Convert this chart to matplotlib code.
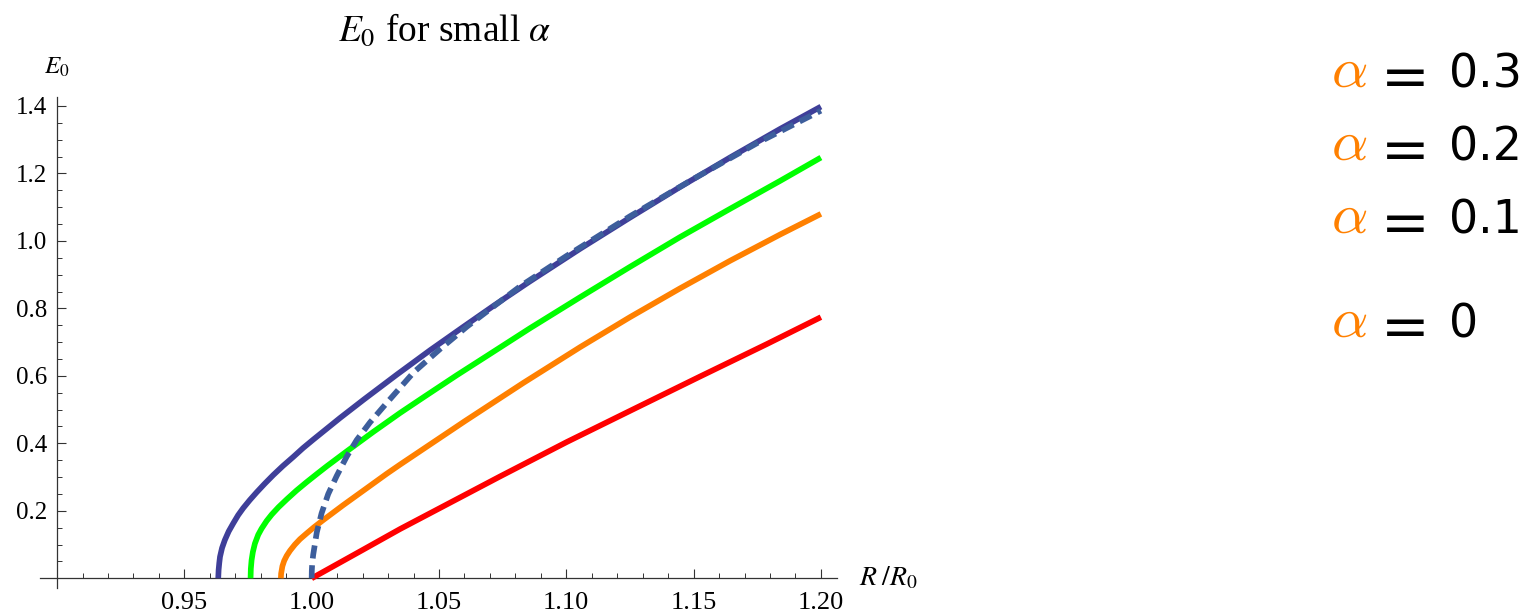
import matplotlib
matplotlib.use("Agg")
import matplotlib.pyplot as plt

# ---------------- data ----------------
navy_x = [0.9633, 0.96345, 0.9637, 0.9640, 0.9648, 0.9659, 0.9674, 0.9692, 0.9711, 0.9731,
          0.9757, 0.9784, 0.9815, 0.9849, 0.9887, 0.9928, 0.9966, 1.0006, 1.0111, 1.0205,
          1.0335, 1.0465, 1.0595, 1.0715, 1.0855, 1.1055, 1.1250, 1.1445, 1.1645, 1.1840,
          1.2000]
navy_y = [0.000, 0.025, 0.045, 0.064, 0.090, 0.1135, 0.139, 0.163, 0.187, 0.208,
          0.232, 0.255, 0.280, 0.306, 0.333, 0.360, 0.386, 0.411, 0.475, 0.530,
          0.604, 0.676, 0.745, 0.808, 0.879, 0.977, 1.069, 1.159, 1.248, 1.332,
          1.398]

green_x = [0.9760, 0.9761, 0.9764, 0.9769, 0.9777, 0.9790, 0.9803, 0.9823, 0.9843, 0.9870,
           0.9902, 0.9940, 0.9980, 1.0020, 1.0059, 1.0137, 1.0242, 1.0347, 1.0440, 1.0570,
           1.0690, 1.0857, 1.1054, 1.1250, 1.1446, 1.1643, 1.1840, 1.2000]
green_y = [0.000, 0.028, 0.054, 0.078, 0.103, 0.129, 0.147, 0.170, 0.189, 0.211,
           0.234, 0.260, 0.285, 0.309, 0.332, 0.376, 0.434, 0.490, 0.537, 0.602,
           0.660, 0.741, 0.833, 0.923, 1.011, 1.095, 1.178, 1.247]

orange_x = [0.9879, 0.9880, 0.9885, 0.9892, 0.9902, 0.9915, 0.9934, 0.9954, 0.9980, 1.0010,
            1.0046, 1.0085, 1.0124, 1.0216, 1.0295, 1.0347, 1.0602, 1.0831, 1.1054, 1.1250,
            1.1446, 1.1643, 1.1840, 1.2000]
orange_y = [0.000, 0.014, 0.036, 0.052, 0.067, 0.082, 0.100, 0.116, 0.133, 0.152,
            0.173, 0.195, 0.217, 0.267, 0.310, 0.337, 0.466, 0.579, 0.685, 0.774,
            0.859, 0.941, 1.019, 1.080]

red_x = [1.0000, 1.0200, 1.0347, 1.0740, 1.1002, 1.1263, 1.1525, 1.1787, 1.2000]
red_y = [0.000, 0.084, 0.146, 0.302, 0.404, 0.501, 0.598, 0.694, 0.774]

dash_x = [1.0000, 1.00005, 1.0002, 1.0006, 1.0020, 1.0039, 1.0065, 1.0098, 1.0137, 1.0177,
          1.0229, 1.0295, 1.0400, 1.0505, 1.0610, 1.0715, 1.0820, 1.1000, 1.1250, 1.1500,
          1.1750, 1.2000]
dash_y = [0.000, 0.022, 0.044, 0.070, 0.136, 0.193, 0.250, 0.303, 0.360, 0.410,
          0.462, 0.520, 0.610, 0.680, 0.746, 0.806, 0.866, 0.955, 1.073, 1.184,
          1.290, 1.386]

x_major = [0.95, 1.00, 1.05, 1.10, 1.15, 1.20]
x_major_labels = ["0.95", "1.00", "1.05", "1.10", "1.15", "1.20"]
y_major = [0.2, 0.4, 0.6, 0.8, 1.0, 1.2, 1.4]
y_major_labels = ["0.2", "0.4", "0.6", "0.8", "1.0", "1.2", "1.4"]
x_minor = [0.91, 0.92, 0.93, 0.94, 0.96, 0.97, 0.98, 0.99, 1.01, 1.02, 1.03, 1.04,
           1.06, 1.07, 1.08, 1.09, 1.11, 1.12, 1.13, 1.14, 1.16, 1.17, 1.18, 1.19]
y_minor = [0.05, 0.1, 0.15, 0.25, 0.3, 0.35, 0.45, 0.5, 0.55, 0.65, 0.7, 0.75,
           0.85, 0.9, 0.95, 1.05, 1.1, 1.15, 1.25, 1.3, 1.35]

legend_values = ["0.3", "0.2", "0.1", "0"]

# ---------------- figure ----------------
W, H = 1533, 615
fig = plt.figure(figsize=(W / 100, H / 100), dpi=100)
plt.rcParams['mathtext.fontset'] = 'stix'
serif = ['Liberation Serif', 'DejaVu Serif']

def fx(px):
    return px / W

def fy(py):
    return 1 - py / H

ax = fig.add_axes([fx(40), fy(588.1), fx(836.7) - fx(40), fy(97) - fy(588.1)])
ax.set_xlim(0.8933, 1.2062)
ax.set_ylim(-0.029, 1.4265)

navy_c = '#3f3f99'
green_c = '#00ff00'
orange_c = '#ff8000'
red_c = '#ff0000'
dash_c = '#3d5e9c'
lw = 4.1

for xs, ys, c in [(navy_x, navy_y, navy_c), (green_x, green_y, green_c),
                  (orange_x, orange_y, orange_c), (red_x, red_y, red_c)]:
    ax.plot(xs, ys, color=c, lw=lw, solid_capstyle='butt',
            solid_joinstyle='round', zorder=3)
ax.plot(dash_x, dash_y, color=dash_c, lw=lw, dashes=(2.3, 1.2),
        dash_capstyle='butt', zorder=4)

# axes in Mathematica style
for s in ['top', 'right']:
    ax.spines[s].set_visible(False)
ax.spines['left'].set_position(('data', 0.9))
ax.spines['bottom'].set_position(('data', 0.0))
for s in ['left', 'bottom']:
    ax.spines[s].set_color('#333333')
    ax.spines[s].set_linewidth(0.9)

ax.set_xticks(x_major)
ax.set_xticklabels(x_major_labels)
ax.set_xticks(x_minor, minor=True)
ax.set_yticks(y_major)
ax.set_yticklabels(y_major_labels)
ax.set_yticks(y_minor, minor=True)
ax.tick_params(which='major', direction='in', length=6.5, width=0.8, color='#333333')
ax.tick_params(which='minor', direction='in', length=3.8, width=0.7, color='#333333')
ax.tick_params(axis='x', which='major', pad=10)
ax.tick_params(axis='y', which='major', pad=7)
for lab in ax.get_xticklabels():
    lab.set_fontfamily(serif)
    lab.set_fontsize(19)
for lab in ax.get_yticklabels():
    lab.set_fontfamily(serif)
    lab.set_fontsize(18)
ax.patch.set_alpha(0)

# axis labels
fig.text(fx(57), fy(67), r"$E_0$", ha='center', va='center', fontsize=18,
         family=serif)
fig.text(fx(859), fy(578), r"$R\;/R_0$", ha='left', va='center', fontsize=20,
         family=serif)
# title
fig.text(fx(445), fy(31), r"$E_0$ for small $\alpha$", ha='center', va='center',
         fontsize=27, family=serif)

# right-hand labels
baselines = [87, 160, 233, 337]
for yb, val in zip(baselines, legend_values):
    fig.text(fx(1331), fy(yb), r"$\alpha$", color=orange_c, fontsize=41,
             ha='left', va='baseline', math_fontfamily='cm')
    fig.text(fx(1381), fy(yb + 9), "=", color='black', fontsize=42,
             ha='left', va='baseline', family=['DejaVu Sans'])
    fig.text(fx(1449), fy(yb), val, color='black', fontsize=33,
             ha='left', va='baseline', family=['DejaVu Sans'])

fig.savefig("out.png", dpi=100)
